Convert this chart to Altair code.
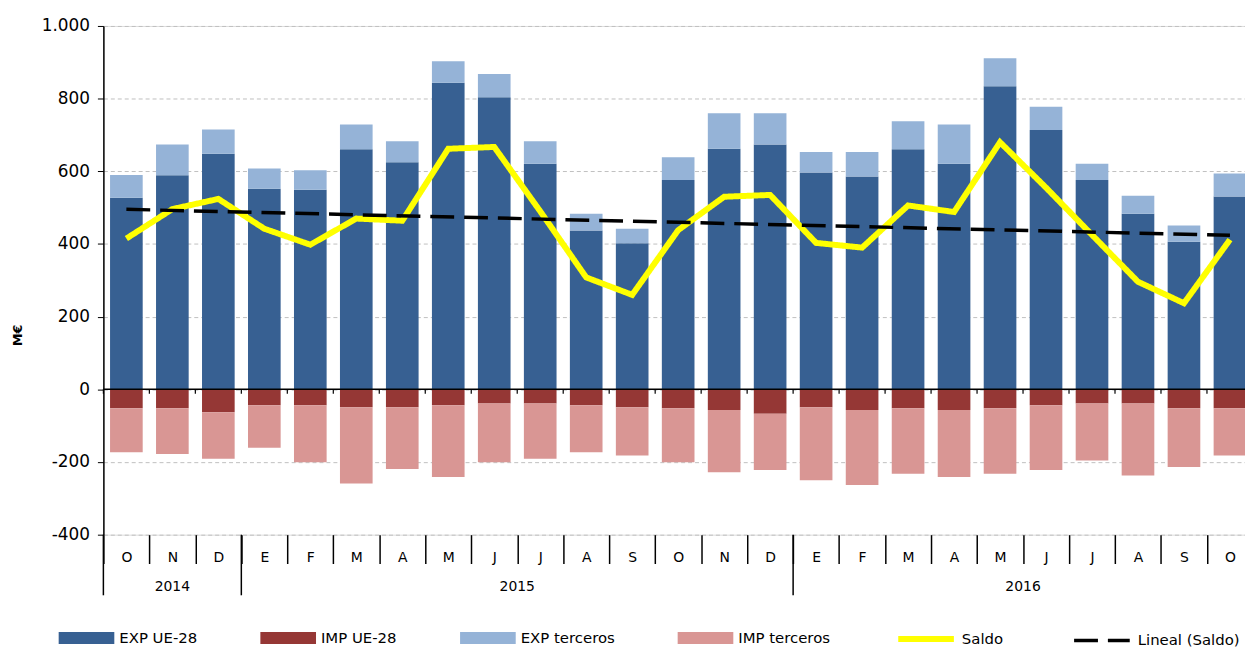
import altair as alt
import pandas as pd

# ---- data ----
months = ["O", "N", "D", "E", "F", "M", "A", "M", "J", "J", "A", "S",
          "O", "N", "D", "E", "F", "M", "A", "M", "J", "J", "A", "S", "O"]
exp_ue = [527, 589, 648, 552, 549, 661, 625, 844, 804, 621, 437, 402,
          576, 662, 674, 597, 586, 661, 621, 834, 714, 576, 483, 406, 531]
exp_ter = [63, 85, 67, 56, 54, 68, 58, 59, 64, 62, 46, 40,
           63, 98, 86, 56, 67, 77, 108, 77, 64, 45, 50, 45, 63]
imp_ue = [-52, -52, -63, -44, -44, -49, -49, -44, -39, -39, -44, -49,
          -52, -57, -67, -49, -57, -52, -57, -52, -44, -39, -39, -52, -52]
imp_ter = [-121, -126, -128, -117, -157, -210, -170, -197, -162, -152, -129, -133,
           -149, -171, -155, -201, -206, -180, -184, -180, -178, -157, -198, -162, -130]
saldo = [415, 496, 524, 442, 398, 470, 464, 662, 667, 490, 308, 260,
         438, 530, 535, 403, 390, 506, 488, 680, 555, 425, 296, 237, 412]
years = ["2014", "2015", "2016"]
year_start = [0, 3, 15]          # index of first month of each year
year_center_idx = [1, 9, 20]     # month index where the year label sits

series_names = ["EXP UE-28", "IMP UE-28", "EXP terceros", "IMP terceros"]
series_colors = ["#376092", "#953735", "#95B3D7", "#D99694"]
line_names = ["Saldo", "Lineal (Saldo)"]

FONT = "DejaVu Sans"
n = len(months)
idx = list(range(n))

rows = []
for i in idx:
    for k, (name, vals) in enumerate(zip(series_names, [exp_ue, imp_ue, exp_ter, imp_ter])):
        rows.append({"idx": i, "serie": name, "valor": vals[i], "orden": k})
bar_df = pd.DataFrame(rows)
saldo_df = pd.DataFrame({"idx": idx, "saldo": saldo, "serie": "Saldo"})
bound_df = pd.DataFrame({"idx": idx})
sep_df = pd.DataFrame({"idx": year_start})
year_df = pd.DataFrame({"idx": year_center_idx, "year": years})

month_arr = "[" + ",".join("'%s'" % m for m in months) + "]"

xscale = alt.Scale(domain=idx, range=[0, 1157], paddingInner=0, paddingOuter=0)
yscale = alt.Scale(domain=[-400, 1000], nice=False, zero=True)

xaxis = alt.Axis(title=None, orient="bottom", domain=False, grid=False,
                 tickBand="extent", tickSize=29, tickColor="black", tickWidth=1.5,
                 labelExpr=month_arr + "[datum.value]", labelAngle=0,
                 labelFont=FONT, labelFontSize=14, labelColor="black",
                 labelPadding=-13)
yaxis = alt.Axis(title="M€", values=list(range(-400, 1001, 200)),
                 labelExpr="replace(replace(datum.label, ',', '.'), '\u2212', '-')",
                 grid=True, gridDash=[4, 3], gridColor="#BFBFBF", gridWidth=1,
                 domainColor="black", domainWidth=1.5,
                 tickColor="black", tickSize=6, tickWidth=1,
                 labelFont=FONT, labelFontSize=17, labelColor="black", labelPadding=8,
                 titleFont=FONT, titleFontSize=13, titleFontWeight="bold", titleColor="black",
                 titleAngle=270, titleX=-86, titleY=311, titleAlign="center",
                 titleBaseline="middle")

bar_legend = alt.Legend(title=None, orient="none", legendX=-45, legendY=588,
                        direction="horizontal", columns=4,
                        symbolType="M-1,-0.214H1V0.214H-1Z", symbolSize=3136,
                        symbolStrokeWidth=0, labelFont=FONT, labelFontSize=15,
                        labelColor="black", labelOffset=5, columnPadding=63,
                        padding=0)

bars = alt.Chart(bar_df).mark_bar(width={"band": 0.71}).encode(
    x=alt.X("idx:O", scale=xscale, axis=xaxis),
    y=alt.Y("valor:Q", stack="zero", scale=yscale, axis=yaxis),
    fill=alt.Fill("serie:N", scale=alt.Scale(domain=series_names, range=series_colors),
                  legend=bar_legend),
    order=alt.Order("orden:Q"),
)

zero = alt.Chart(pd.DataFrame({"y": [0]})).mark_rule(color="black", strokeWidth=1.5).encode(
    y="y:Q"
)

zero_ticks = alt.Chart(bound_df).mark_rule(color="black", strokeWidth=1.2).encode(
    x=alt.X("idx:O", bandPosition=0),
    y=alt.Y(datum=0),
    y2=alt.Y2(datum=-12),
)

separators = alt.Chart(sep_df).mark_rule(color="black", strokeWidth=1.5).encode(
    x=alt.X("idx:O", bandPosition=0),
    y=alt.value(512),
    y2=alt.value(573),
)

year_text_a = alt.Chart(year_df[year_df["year"] == "2014"]).mark_text(
    font=FONT, fontSize=14, color="black", baseline="middle").encode(
    x=alt.X("idx:O", bandPosition=0.5),
    y=alt.value(565),
    text="year:N",
)
year_text_b = alt.Chart(year_df[year_df["year"] != "2014"]).mark_text(
    font=FONT, fontSize=14, color="black", baseline="middle").encode(
    x=alt.X("idx:O", bandPosition=0),
    y=alt.value(565),
    text="year:N",
)

line_legend = alt.Legend(title=None, orient="none", legendX=797, legendY=586,
                         direction="horizontal", columns=2,
                         symbolType="stroke", symbolSize=3136,
                         labelFont=FONT, labelFontSize=15, labelColor="black",
                         labelOffset=5, columnPadding=64, padding=0)
stroke_scale = alt.Scale(domain=line_names, range=["#FFFF00", "#000000"])
dash_scale = alt.Scale(domain=line_names, range=[[1, 0], [24, 10]])
width_scale = alt.Scale(domain=line_names, range=[6, 3.5])

saldo_line = alt.Chart(saldo_df).mark_line().encode(
    x="idx:O",
    y="saldo:Q",
    stroke=alt.Stroke("serie:N", scale=stroke_scale, legend=line_legend),
    strokeDash=alt.StrokeDash("serie:N", scale=dash_scale, legend=line_legend),
    strokeWidth=alt.StrokeWidth("serie:N", scale=width_scale, legend=line_legend),
)

trend = alt.Chart(saldo_df).transform_regression(
    "idx", "saldo", method="linear"
).transform_calculate(serie="'Lineal (Saldo)'").mark_line().encode(
    x="idx:O",
    y="saldo:Q",
    stroke=alt.Stroke("serie:N", scale=stroke_scale, legend=line_legend),
    strokeDash=alt.StrokeDash("serie:N", scale=dash_scale, legend=line_legend),
    strokeWidth=alt.StrokeWidth("serie:N", scale=width_scale, legend=line_legend),
)

chart = alt.layer(
    bars, zero, zero_ticks, separators, year_text_a, year_text_b, saldo_line, trend
).properties(
    width=1149, height=512,
    autosize=alt.AutoSizeParams(type="none"),
    padding={"left": 96, "top": 16, "right": 0, "bottom": 116},
).configure_view(stroke=None).configure(background="white")

chart.save("out.html", embed_options={"renderer": "svg", "actions": False})
